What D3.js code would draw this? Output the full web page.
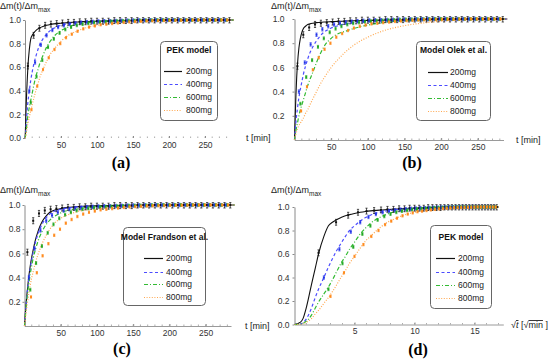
<!DOCTYPE html>
<html>
<head>
<meta charset="utf-8">
<script src="https://cdn.jsdelivr.net/npm/d3@7"></script>
<style>
  body { margin: 0; background: #fff; }
  svg { display: block; }
  text { font-family: "Liberation Sans", Arial, sans-serif; }
</style>
</head>
<body>
<div id="chart"></div>
<script>
// sample masses
const masses = ['200mg', '400mg', '600mg', '800mg'];

// measured points (t in min)
const t200 = [4, 12, 20, 28, 36, 44, 52, 60, 68, 76, 84, 92, 100, 108, 116, 124, 132, 140, 148, 156, 164, 172, 180, 188, 196, 204, 212, 220, 228, 236, 244, 252, 260, 268, 276, 284];
const y200 = [0.61, 0.87, 0.93, 0.955, 0.965, 0.97, 0.975, 0.98, 0.98, 0.985, 0.985, 0.99, 0.99, 0.99, 0.99, 0.995, 0.995, 0.995, 0.995, 1, 1, 1, 1, 1, 1, 1, 1, 1, 1, 1, 1, 1, 1, 1, 1, 1];
const t400 = [6, 14, 22, 30, 38, 46, 54, 62, 70, 78, 86, 94, 102, 110, 118, 126, 134, 142, 150, 158, 166, 174, 182, 190, 198, 206, 214, 222, 230, 238, 246, 254, 262, 270, 278];
const y400 = [0.40, 0.64, 0.79, 0.87, 0.915, 0.94, 0.955, 0.965, 0.972, 0.978, 0.982, 0.985, 0.988, 0.99, 0.99, 0.992, 0.994, 0.995, 0.996, 0.997, 0.998, 0.998, 0.999, 1, 1, 1, 1, 1, 1, 1, 1, 1, 1, 1, 1];
const t600 = [8, 16, 24, 32, 40, 48, 56, 64, 72, 80, 88, 96, 104, 112, 120, 128, 136, 144, 152, 160, 168, 176, 184, 192, 200, 208, 216, 224, 232, 240, 248, 256, 264, 272, 280];
const y600 = [0.30, 0.52, 0.66, 0.77, 0.84, 0.89, 0.92, 0.94, 0.955, 0.965, 0.972, 0.978, 0.982, 0.985, 0.988, 0.99, 0.992, 0.994, 0.995, 0.996, 0.997, 0.998, 0.999, 1, 1, 1, 1, 1, 1, 1, 1, 1, 1, 1, 1];
const t800 = [9, 17, 25, 33, 41, 49, 57, 65, 73, 81, 89, 97, 105, 113, 121, 129, 137, 145, 153, 161, 169, 177, 185, 193, 201, 209, 217, 225, 233, 241, 249, 257, 265, 273, 281];
const y800 = [0.24, 0.44, 0.58, 0.68, 0.75, 0.80, 0.85, 0.88, 0.905, 0.925, 0.94, 0.95, 0.96, 0.965, 0.97, 0.975, 0.98, 0.984, 0.987, 0.99, 0.992, 0.994, 0.995, 0.996, 0.997, 0.998, 0.998, 0.999, 1, 1, 1, 1, 1, 1, 1];

// model curves, sampled at modelT
const modelT = [0, 0.25, 0.5, 1, 2, 3, 4, 6, 8, 10, 12, 15, 18, 21, 25, 30, 35, 40, 50, 60, 70, 80, 100, 120, 150, 180, 220, 260, 290];

const pek200 = [0, 0.02, 0.05, 0.15, 0.34, 0.48, 0.6, 0.75, 0.84, 0.87, 0.89, 0.91, 0.925, 0.935, 0.945, 0.955, 0.962, 0.967, 0.973, 0.978, 0.982, 0.986, 0.99, 0.993, 0.996, 0.998, 0.999, 1, 1];
const pek400 = [0, 0.005, 0.015, 0.05, 0.14, 0.23, 0.3, 0.40, 0.49, 0.56, 0.62, 0.69, 0.75, 0.80, 0.84, 0.88, 0.91, 0.93, 0.955, 0.968, 0.976, 0.982, 0.99, 0.994, 0.997, 0.999, 1, 1, 1];
const pek600 = [0, 0.003, 0.01, 0.03, 0.08, 0.14, 0.19, 0.26, 0.32, 0.38, 0.44, 0.52, 0.58, 0.64, 0.70, 0.77, 0.82, 0.86, 0.91, 0.94, 0.96, 0.972, 0.985, 0.992, 0.996, 0.998, 1, 1, 1];
const pek800 = [0, 0.002, 0.006, 0.02, 0.05, 0.09, 0.12, 0.18, 0.23, 0.28, 0.33, 0.40, 0.46, 0.52, 0.58, 0.65, 0.71, 0.75, 0.82, 0.87, 0.90, 0.925, 0.955, 0.972, 0.985, 0.992, 0.997, 0.999, 1];

const olek200 = [0, 0.06, 0.11, 0.2, 0.38, 0.52, 0.62, 0.76, 0.84, 0.89, 0.92, 0.94, 0.955, 0.96, 0.965, 0.97, 0.972, 0.975, 0.978, 0.98, 0.983, 0.985, 0.988, 0.99, 0.993, 0.995, 0.997, 0.999, 1];
const olek400 = [0, 0.02, 0.04, 0.08, 0.15, 0.21, 0.26, 0.35, 0.42, 0.48, 0.54, 0.61, 0.67, 0.72, 0.77, 0.82, 0.86, 0.89, 0.925, 0.945, 0.96, 0.97, 0.98, 0.987, 0.993, 0.996, 0.998, 1, 1];
const olek600 = [0, 0.01, 0.02, 0.04, 0.08, 0.11, 0.14, 0.2, 0.25, 0.29, 0.33, 0.39, 0.45, 0.50, 0.56, 0.64, 0.71, 0.77, 0.84, 0.88, 0.90, 0.92, 0.95, 0.97, 0.985, 0.992, 0.997, 1, 1];
const olek800 = [0, 0.008, 0.015, 0.03, 0.05, 0.07, 0.09, 0.12, 0.14, 0.16, 0.18, 0.22, 0.25, 0.29, 0.34, 0.40, 0.46, 0.51, 0.60, 0.67, 0.73, 0.78, 0.85, 0.90, 0.945, 0.97, 0.99, 0.997, 1];

const frand200 = [0, 0.025, 0.05, 0.09, 0.17, 0.24, 0.3, 0.41, 0.5, 0.57, 0.63, 0.71, 0.77, 0.82, 0.87, 0.91, 0.94, 0.955, 0.97, 0.98, 0.985, 0.99, 0.993, 0.995, 0.997, 0.998, 0.999, 1, 1];
const frand400 = [0, 0.02, 0.04, 0.08, 0.16, 0.23, 0.29, 0.39, 0.48, 0.55, 0.61, 0.69, 0.75, 0.80, 0.85, 0.895, 0.925, 0.945, 0.965, 0.975, 0.982, 0.987, 0.992, 0.995, 0.997, 0.998, 0.999, 1, 1];
const frand600 = [0, 0.018, 0.035, 0.07, 0.14, 0.2, 0.26, 0.35, 0.43, 0.5, 0.56, 0.63, 0.69, 0.74, 0.79, 0.84, 0.875, 0.9, 0.935, 0.955, 0.967, 0.975, 0.985, 0.99, 0.995, 0.997, 0.999, 1, 1];
const frand800 = [0, 0.012, 0.025, 0.05, 0.1, 0.15, 0.19, 0.27, 0.34, 0.4, 0.45, 0.52, 0.58, 0.63, 0.69, 0.75, 0.8, 0.84, 0.89, 0.92, 0.94, 0.955, 0.97, 0.98, 0.99, 0.994, 0.997, 0.999, 1];

const minTicks = [50, 100, 150, 200, 250];
const sqrtTicks = [5, 10, 15];

// styles per mass
const lineColor = ['#111', '#4c4cff', '#33bb33', '#ffa850'];
const markColor = ['#111', '#2233e8', '#22a822', '#ff8a1c'];
const dashes = [null, '3,2.5', '4,2,1,2', '1,1.6'];
const errHalf = [0.025, 0.014, 0.012, 0.01];

const measured = [
    t200.map((t, i) => ({ t, v: y200[i] })),
    t400.map((t, i) => ({ t, v: y400[i] })),
    t600.map((t, i) => ({ t, v: y600[i] })),
    t800.map((t, i) => ({ t, v: y800[i] }))
];

const panels = [
    { tag: '(a)', models: [pek200, pek400, pek600, pek800], title: 'PEK model',
      x0: 25, xDomain: [0, 290], xRange: [25, 233.8], yRange: [138, 20], yTicks: [0, 0.2, 0.4, 0.6, 0.8, 1.0],
      yPad: 2, xLine: false, xTicks: minTicks, sqrt: false,
      ylab: [0, 9], xlab: [246, 141], xlabText: 't [min]', tagPos: [121, 168],
      legend: { x: 160, y: 41, w: 57, h: 79, lx: 164, lw: 18, tx: 186, rows: [71, 84, 97, 110], ty: 50 } },
    { tag: '(b)', models: [olek200, olek400, olek600, olek800], title: 'Model Olek et al.',
      x0: 294.5, xDomain: [0, 285], xRange: [294.5, 503.5], yRange: [140, 19], yTicks: [0.2, 0.4, 0.6, 0.8, 1.0],
      yPad: 8, xLine: true, xTicks: minTicks, sqrt: false,
      ylab: [271, 9], xlab: [516, 143], xlabText: 't [min]', tagPos: [412, 168],
      legend: { x: 416, y: 41, w: 74, h: 79, lx: 428, lw: 20, tx: 450, rows: [72, 85, 98, 111], ty: 50 } },
    { tag: '(c)', models: [frand200, frand400, frand600, frand800], title: 'Model Frandson et al.',
      x0: 24.5, xDomain: [0, 285], xRange: [24.5, 231], yRange: [326, 205], yTicks: [0.2, 0.4, 0.6, 0.8, 1.0],
      yPad: 2, xLine: true, xTicks: minTicks, sqrt: false,
      ylab: [0, 193], xlab: [245, 329], xlabText: 't [min]', tagPos: [122, 354],
      legend: { x: 123, y: 227, w: 82, h: 78, lx: 144, lw: 19, tx: 166, rows: [258, 272, 284, 297], ty: 237 } },
    { tag: '(d)', models: [pek200, pek400, pek600, pek800], title: 'PEK model',
      x0: 294.5, xDomain: [0, 17.4], xRange: [294.5, 503.3], yRange: [324.5, 207], yTicks: [0, 0.2, 0.4, 0.6, 0.8, 1.0],
      yPad: 3, xLine: true, xTicks: sqrtTicks, sqrt: true,
      ylab: [271, 193], xlab: [511, 328], xlabText: null, tagPos: [418, 355],
      legend: { x: 430, y: 225, w: 61, h: 83, lx: 436, lw: 19, tx: 458, rows: [258, 272, 285, 298], ty: 237 } }
];

const svg = d3.select('#chart').append('svg')
    .attr('width', 553)
    .attr('height', 360);

function drawPanel(p) {
    const g = svg.append('g');
    const x = d3.scaleLinear().domain(p.xDomain).range(p.xRange);
    const y = d3.scaleLinear().domain([0, 1]).range(p.yRange);
    const tx = p.sqrt ? (t => Math.sqrt(t)) : (t => t);

    // x axis
    const xAxis = g.append('g')
        .attr('transform', `translate(0,${y(0)})`)
        .call(d3.axisBottom(x).tickValues(p.xTicks).tickSize(2).tickSizeOuter(0).tickPadding(1.5).tickFormat(d3.format('d')));
    xAxis.select('.domain').attr('stroke', p.xLine ? '#9a9a9a' : 'none');
    xAxis.selectAll('.tick line').attr('stroke', '#888').attr('y2', -2);
    xAxis.selectAll('text').attr('fill', '#333').style('font-size', '8.5px');

    // minor x ticks
    const minor = p.sqrt ? d3.range(1, 18) : d3.range(10, 290, 10);
    g.append('g').selectAll('line')
        .data(minor.filter(d => d <= p.xDomain[1]))
        .enter()
        .append('line')
        .attr('x1', d => x(d)).attr('x2', d => x(d))
        .attr('y1', y(0)).attr('y2', y(0) - 1.5)
        .attr('stroke', '#999')
        .attr('stroke-width', 0.8);

    // y axis
    const yAxis = g.append('g')
        .attr('transform', `translate(${p.x0},0)`)
        .call(d3.axisLeft(y).tickValues(p.yTicks).tickSize(2).tickSizeOuter(0).tickPadding(p.yPad).tickFormat(d3.format('.1f')));
    yAxis.select('.domain').attr('stroke', '#8a8a8a');
    yAxis.selectAll('.tick line').attr('stroke', '#888');
    yAxis.selectAll('text').attr('fill', '#333').style('font-size', '8.5px');

    // model curves
    const line = d3.line()
        .x(d => x(tx(d[0])))
        .y(d => y(d[1]))
        .curve(d3.curveMonotoneX);

    p.models.forEach((vals, k) => {
        g.append('path')
            .datum(modelT.map((t, i) => [t, vals[i]]))
            .attr('fill', 'none')
            .attr('stroke', lineColor[k])
            .attr('stroke-width', k === 0 ? 1.1 : 1.2)
            .attr('stroke-dasharray', dashes[k])
            .attr('d', line);
    });

    // measured points with error bars
    measured.forEach((pts, k) => {
        const gm = g.append('g').attr('stroke', markColor[k]).attr('fill', markColor[k]);
        gm.selectAll('.eb')
            .data(pts)
            .enter()
            .append('path')
            .attr('fill', 'none')
            .attr('stroke-width', 0.7)
            .attr('d', d => {
                const cx = x(tx(d.t));
                const y1 = y(Math.min(d.v + errHalf[k], 1.02));
                const y2 = y(d.v - errHalf[k]);
                return `M${cx - 1.1},${y1}H${cx + 1.1}M${cx},${y1}V${y2}M${cx - 1.1},${y2}H${cx + 1.1}`;
            });
        gm.selectAll('rect')
            .data(pts)
            .enter()
            .append('rect')
            .attr('stroke', 'none')
            .attr('x', d => x(tx(d.t)) - 1)
            .attr('y', d => y(d.v) - 1)
            .attr('width', 2)
            .attr('height', 2);
    });

    // axis labels
    const yl = g.append('text')
        .attr('x', p.ylab[0])
        .attr('y', p.ylab[1])
        .attr('fill', '#222')
        .style('font-size', '9px');
    yl.append('tspan').text('Δm(t)/Δm');
    yl.append('tspan').attr('dy', 2.5).style('font-size', '6.5px').text('max');

    if (p.xlabText) {
        g.append('text')
            .attr('x', p.xlab[0])
            .attr('y', p.xlab[1])
            .attr('fill', '#222')
            .style('font-size', '9px')
            .text(p.xlabText);
    } else {
        const t = g.append('text')
            .attr('x', p.xlab[0])
            .attr('y', p.xlab[1])
            .attr('fill', '#222')
            .style('font-size', '9px');
        t.append('tspan').text('√');
        t.append('tspan').style('text-decoration', 'overline').style('font-style', 'italic').text('t');
        t.append('tspan').text(' [√');
        t.append('tspan').style('text-decoration', 'overline').text('min');
        t.append('tspan').text(' ]');
    }

    // panel tag
    g.append('text')
        .attr('x', p.tagPos[0])
        .attr('y', p.tagPos[1])
        .attr('text-anchor', 'middle')
        .style('font-family', '"Liberation Serif", "Times New Roman", serif')
        .style('font-weight', 'bold')
        .style('font-size', '16px')
        .text(p.tag);

    // legend
    const L = p.legend;
    const lg = g.append('g');
    lg.append('rect')
        .attr('x', L.x + 0.5).attr('y', L.y + 0.5)
        .attr('width', L.w).attr('height', L.h)
        .attr('rx', 4)
        .attr('fill', '#fff')
        .attr('stroke', '#666')
        .attr('stroke-width', 1);
    lg.append('text')
        .attr('x', L.x + L.w / 2 + 0.5)
        .attr('y', L.ty + 3)
        .attr('text-anchor', 'middle')
        .attr('fill', '#111')
        .style('font-size', '8.5px')
        .style('font-weight', 'bold')
        .text(p.title);
    masses.forEach((m, k) => {
        lg.append('line')
            .attr('x1', L.lx).attr('x2', L.lx + L.lw)
            .attr('y1', L.rows[k] + 0.5).attr('y2', L.rows[k] + 0.5)
            .attr('stroke', lineColor[k])
            .attr('stroke-width', 1.2)
            .attr('stroke-dasharray', dashes[k]);
        lg.append('text')
            .attr('x', L.tx)
            .attr('y', L.rows[k] + 3)
            .attr('fill', '#222')
            .style('font-size', '8.5px')
            .text(m);
    });
}

panels.forEach(drawPanel);
</script>
</body>
</html>
